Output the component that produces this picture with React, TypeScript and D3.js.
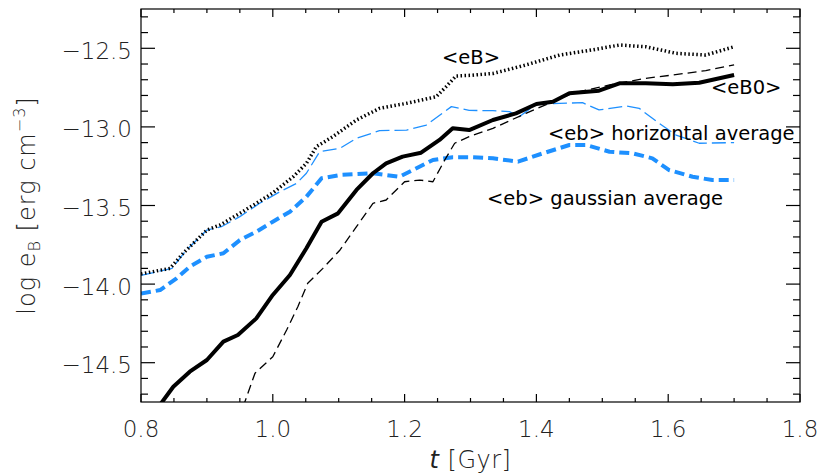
import React from "react";
import * as d3 from "d3";

// ---- data ----
const tEB = [0.80,0.844,0.864,0.90,0.92,0.95,0.975,1.0,1.031,1.051,1.066,1.091,1.127,1.162,1.203,1.248,1.263,1.278,1.30,1.334,1.384,1.435,1.485,1.526,1.566,1.612,1.657,1.70];
const vEB = [-13.935,-13.90,-13.804,-13.656,-13.624,-13.55,-13.486,-13.42,-13.317,-13.232,-13.126,-13.062,-12.956,-12.882,-12.85,-12.808,-12.744,-12.676,-12.672,-12.66,-12.606,-12.543,-12.51,-12.479,-12.49,-12.532,-12.543,-12.49];

const tEB0 = [0.825,0.849,0.874,0.90,0.925,0.947,0.975,1.0,1.026,1.051,1.074,1.099,1.127,1.152,1.172,1.197,1.225,1.253,1.273,1.298,1.334,1.369,1.40,1.425,1.45,1.495,1.526,1.566,1.607,1.647,1.70];
const vEB0 = [-14.79,-14.653,-14.557,-14.483,-14.366,-14.324,-14.218,-14.069,-13.942,-13.772,-13.603,-13.55,-13.401,-13.295,-13.232,-13.189,-13.164,-13.083,-13.009,-13.02,-12.956,-12.914,-12.854,-12.84,-12.786,-12.77,-12.723,-12.723,-12.729,-12.719,-12.67];

const tDash = [0.955,0.973,1.0,1.021,1.038,1.053,1.076,1.102,1.127,1.152,1.172,1.20,1.223,1.243,1.261,1.276,1.298,1.334,1.384,1.425,1.455,1.511,1.566,1.607,1.657,1.70];
const vDash = [-14.78,-14.567,-14.462,-14.292,-14.144,-13.995,-13.9,-13.783,-13.635,-13.486,-13.465,-13.349,-13.338,-13.349,-13.21,-13.104,-13.062,-13.009,-12.914,-12.84,-12.786,-12.733,-12.691,-12.67,-12.642,-12.605];

const tHor = [0.80,0.847,0.869,0.90,0.922,0.95,0.98,1.011,1.036,1.051,1.071,1.102,1.127,1.162,1.203,1.233,1.271,1.298,1.334,1.359,1.374,1.40,1.435,1.47,1.495,1.536,1.556,1.586,1.612,1.647,1.70];
const vHor = [-13.945,-13.9,-13.783,-13.656,-13.635,-13.571,-13.486,-13.412,-13.359,-13.295,-13.158,-13.136,-13.073,-13.024,-13.02,-12.988,-12.871,-12.895,-12.897,-12.903,-12.935,-12.854,-12.85,-12.846,-12.892,-12.867,-12.882,-12.977,-13.052,-13.104,-13.10];

const tGau = [0.80,0.829,0.854,0.874,0.90,0.925,0.95,0.975,1.0,1.026,1.051,1.074,1.102,1.152,1.192,1.218,1.243,1.273,1.30,1.334,1.372,1.41,1.45,1.475,1.511,1.546,1.576,1.601,1.637,1.667,1.70];
const vGau = [-14.06,-14.038,-13.963,-13.889,-13.826,-13.804,-13.72,-13.667,-13.603,-13.54,-13.444,-13.327,-13.306,-13.295,-13.317,-13.263,-13.21,-13.193,-13.193,-13.2,-13.221,-13.168,-13.115,-13.115,-13.158,-13.168,-13.2,-13.274,-13.317,-13.338,-13.338];

const xTickLabels = ["0.8", "1.0", "1.2", "1.4", "1.6", "1.8"];
const yTickLabels = ["\u221212.5", "\u221213.0", "\u221213.5", "\u221214.0", "\u221214.5"];

const W = 821, H = 474;
const L = 141, R = 800, T = 9, B = 402;
const BLUE = "#1E90FF";
const TF = "'DejaVu Sans', sans-serif";

export default function App() {
  const x = d3.scaleLinear().domain([0.8, 1.8]).range([L, R]);
  const y = d3.scaleLinear().domain([-14.75, -12.25]).range([B, T]);
  const line = (ts: number[], vs: number[]) =>
    d3.line<number>().x((_, i) => x(ts[i])).y((v) => y(v))(vs) || "";

  const xMajor = d3.range(0.8, 1.8001, 0.2);
  const xMinor = d3.range(0.8, 1.8001, 0.05);
  const yMajor = [-12.5, -13.0, -13.5, -14.0, -14.5];
  const yMinor = d3.range(-14.7, -12.25, 0.1);
  const xl = 8, xs = 4, yl = 14, ys = 7;

  return (
    <svg width={W} height={H} style={{ position: "absolute", left: 0, top: 0, background: "#fff" }}
      fontFamily={TF}>
      <defs>
        <clipPath id="plot"><rect x={L} y={T} width={R - L} height={B - T} /></clipPath>
      </defs>
      <g clipPath="url(#plot)" fill="none" strokeLinejoin="round">
        <path d={line(tHor, vHor)} stroke={BLUE} strokeWidth={1.3} strokeDasharray="14,5" />
        <path d={line(tGau, vGau)} stroke={BLUE} strokeWidth={4} strokeDasharray="10,5" />
        <path d={line(tDash, vDash)} stroke="#000" strokeWidth={1.3} strokeDasharray="9,5" />
        <path d={line(tEB0, vEB0)} stroke="#000" strokeWidth={4} />
        <path d={line(tEB, vEB)} stroke="#000" strokeWidth={3.5} strokeDasharray="1.5,2.5" />
      </g>
      {/* frame */}
      <rect x={L} y={T} width={R - L} height={B - T} fill="none" stroke="#000" strokeWidth={1.2} />
      <g stroke="#000" strokeWidth={1.2}>
        {xMinor.map((t, i) => {
          const isMaj = i % 4 === 0;
          const len = isMaj ? xl : xs;
          return (
            <g key={"xm" + i}>
              <line x1={x(t)} x2={x(t)} y1={B} y2={B - len} />
              <line x1={x(t)} x2={x(t)} y1={T} y2={T + len} />
            </g>
          );
        })}
        {yMinor.map((v, i) => {
          const isMaj = yMajor.some((m) => Math.abs(m - v) < 1e-6);
          const len = isMaj ? yl : ys;
          return (
            <g key={"ym" + i}>
              <line x1={L} x2={L + len} y1={y(v)} y2={y(v)} />
              <line x1={R} x2={R - len} y1={y(v)} y2={y(v)} />
            </g>
          );
        })}
      </g>
      {/* tick labels */}
      <g fontSize={23} fill="#222" fontWeight={200}>
        {xMajor.map((t, i) => (
          <text key={"xt" + i} x={x(t)} y={437} textAnchor="middle">{xTickLabels[i]}</text>
        ))}
        {yMajor.map((v, i) => (
          <text key={"yt" + i} x={132} y={y(v) + 10.5} textAnchor="end">{yTickLabels[i]}</text>
        ))}
      </g>
      {/* axis titles */}
      <text x={(L + R) / 2} y={468} textAnchor="middle" fontSize={24} fill="#222" fontWeight={200} letterSpacing={0.5}>
        <tspan fontStyle="italic">t</tspan> [Gyr]
      </text>
      <text transform={`translate(35,${(T + B) / 2}) rotate(-90)`} textAnchor="middle" fontSize={24}
        fill="#222" fontWeight={200} letterSpacing={1}>
        log e<tspan fontSize={16} dy={5}>B</tspan><tspan dy={-5}> [erg cm</tspan>
        <tspan fontSize={16} dy={-10}>{"\u22123"}</tspan><tspan dy={10}>]</tspan>
      </text>
      {/* annotations */}
      <g fontSize={19.5} fill="#000">
        <text x={442} y={64}>{"<eB>"}</text>
        <text x={711} y={94}>{"<eB0>"}</text>
        <text x={548} y={140}>{"<eb> horizontal average"}</text>
        <text x={487} y={205}>{"<eb> gaussian average"}</text>
      </g>
    </svg>
  );
}
